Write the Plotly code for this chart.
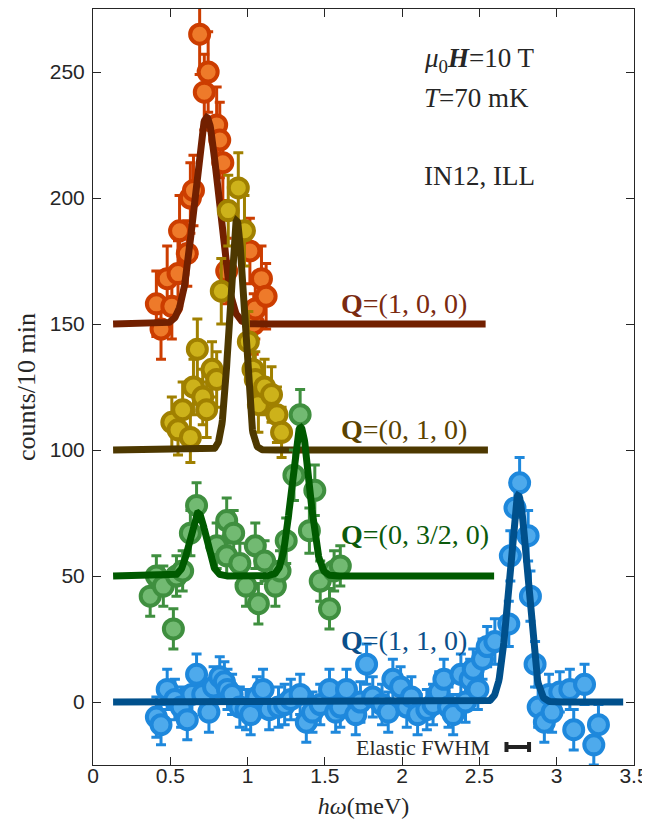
import plotly.graph_objects as go
import numpy as np

# ---------------- data ----------------
# Q = (1, 0, 0)
q100_x = [0.41, 0.44, 0.48, 0.51, 0.55, 0.56, 0.61, 0.63, 0.65, 0.69, 0.72, 0.745, 0.80, 0.82, 0.84, 0.865, 1.015, 1.04, 1.05, 1.09, 1.12]
q100_y = [158, 148, 168, 157, 170, 187, 178, 200, 203, 265, 242, 250, 229, 223, 214, 171, 179, 150, 156, 168, 161]
q100_e = [13, 12, 13, 13, 13, 14, 13, 14, 14, 16, 15, 16, 15, 15, 15, 13, 13, 12, 12, 13, 13]

# Q = (0, 1, 0)
q010_x = [0.51, 0.55, 0.58, 0.63, 0.65, 0.675, 0.71, 0.735, 0.77, 0.80, 0.83, 0.875, 0.94, 0.98, 1.005, 1.035, 1.05, 1.07, 1.11, 1.155, 1.19, 1.22]
q010_y = [111, 108, 116, 105, 125, 140, 121, 116, 132, 128, 163, 195, 204, 187, 143, 132, 128, 118, 125, 122, 114, 107]
q010_e = [10, 10, 11, 10, 11, 12, 11, 11, 11, 11, 13, 14, 14, 14, 12, 11, 11, 11, 11, 11, 11, 10]

# Q = (0, 3/2, 0)
q0320_x = [0.37, 0.41, 0.455, 0.52, 0.54, 0.58, 0.63, 0.67, 0.80, 0.865, 0.865, 0.91, 0.95, 0.99, 1.05, 1.07, 1.11, 1.18, 1.21, 1.25, 1.30, 1.34, 1.40, 1.435, 1.47, 1.53, 1.56, 1.60]
q0320_y = [42, 50, 46, 29, 50, 52, 67, 78, 62, 72, 58, 67, 55, 46, 62, 39, 56, 46, 52, 64, 90, 114, 68, 84, 48, 37, 52, 54]
q0320_e = [8, 8, 8, 8, 8, 8, 9, 9, 9, 9, 8, 9, 8, 8, 9, 8, 8, 8, 8, 9, 10, 10, 9, 10, 8, 8, 8, 8]

# Q = (1, 1, 0)
q110_x = [0.41, 0.44, 0.48, 0.53, 0.57, 0.61, 0.64, 0.67, 0.71, 0.75, 0.78, 0.82, 0.85, 0.87, 0.90, 0.95, 0.99, 1.02,
          1.06, 1.10, 1.14, 1.20, 1.24, 1.28, 1.34, 1.38, 1.42, 1.47, 1.53, 1.57, 1.60, 1.64, 1.70, 1.73, 1.77, 1.81,
          1.87, 1.91, 1.94, 1.99, 2.03, 2.06, 2.10, 2.16, 2.20, 2.24, 2.27, 2.30, 2.33, 2.38, 2.41, 2.44, 2.46, 2.49,
          2.52, 2.55, 2.60, 2.69, 2.70, 2.73, 2.76, 2.815, 2.83, 2.86, 2.88, 2.92, 2.95, 2.97, 3.02, 3.085, 3.11,
          3.18, 3.24, 3.27]
q110_y = [-6, -9, 5, 1, -2, -7, 3, 11, 3, -4, 6, 10, 8, 5, 3, -2, -3, -5,
          2, 5, -3, -2, -1, 1, 3, -8, -4, -1, 5, -4, -2, 5, -5, 0, 15, 2,
          -1, -4, 9, 6, -2, 2, -5, -3, -1, 4, 9, -2, -5, 11, 0, 9, 13, 5,
          17, 22, 24, 31, 58, 77, 87, 66, 42, 15, -2, -8, 3, -4, 4, 5, -11,
          7, -17, -9]
q110_e = [8] * 56 + [9, 9, 10, 10, 10, 10, 10, 9, 8, 8, 8, 8, 8, 8, 8, 8, 8, 8]

# fit parameters: baseline, [centres], [amplitudes], [sigmas], x-range
fit100 = dict(base=150, cen=[0.735], amp=[82], sig=[0.078], xr=[0.13, 2.54])
fit010 = dict(base=100, cen=[0.93], amp=[91], sig=[0.046], xr=[0.13, 2.555])
fit0320 = dict(base=50, cen=[0.68, 1.343], amp=[25, 59], sig=[0.052, 0.058], xr=[0.13, 2.595])
fit110 = dict(base=0, cen=[2.751], amp=[82], sig=[0.059], xr=[0.13, 3.43])

# elastic resolution bar
fwhm_x = [2.748]
fwhm_y = [-17.9]
fwhm_half = [0.073]

# ---------------- styles ----------------
series = [
    (q100_x, q100_y, q100_e, fit100, '#cc3d00', '#ee7a2a', '#722000'),
    (q010_x, q010_y, q010_e, fit010, '#a08000', '#cdb21a', '#4d3800'),
    (q0320_x, q0320_y, q0320_e, fit0320, '#3f8f3f', '#72ba72', '#005a00'),
    (q110_x, q110_y, q110_e, fit110, '#1e88dc', '#4eaaec', '#00508c'),
]

fig = go.Figure()
for xs, ys, es, fit, edge, fill, fitc in series:
    fig.add_trace(go.Scatter(
        x=xs, y=ys, mode='markers',
        marker=dict(symbol='circle', size=19, color=fill, line=dict(color=edge, width=4)),
        error_y=dict(type='data', array=es, visible=True, color=edge, thickness=3, width=5),
    ))
    xx = np.linspace(fit['xr'][0], fit['xr'][1], 800)
    yy = np.full_like(xx, float(fit['base']))
    for c, a, s in zip(fit['cen'], fit['amp'], fit['sig']):
        yy = yy + a * np.exp(-0.5 * ((xx - c) / s) ** 2)
    fig.add_trace(go.Scatter(x=xx, y=yy, mode='lines', line=dict(color=fitc, width=7)))

fig.add_trace(go.Scatter(
    x=fwhm_x, y=fwhm_y, mode='markers',
    marker=dict(size=1, color='#222222'),
    error_x=dict(type='data', array=fwhm_half, visible=True, color='#222222', thickness=4, width=5),
))

serif = 'Liberation Serif'
ann = []
qlabels = [
    ('<b>Q</b>=(1, 0, 0)', 158, '#7a2a10'),
    ('<b>Q</b>=(0, 1, 0)', 108, '#5a4200'),
    ('<b>Q</b>=(0, 3/2, 0)', 66.3, '#0b5a0b'),
    ('<b>Q</b>=(1, 1, 0)', 24.6, '#0a4f8a'),
]
for t, yv, c in qlabels:
    ann.append(dict(x=1.59, y=yv, xref='x', yref='y', text=t, showarrow=False, xanchor='left', yanchor='middle',
                    font=dict(family=serif, size=28, color=c)))
for t, yv in [('<i>μ</i><sub>0</sub><i><b>H</b></i>=10 T', 254.8), ('<i>T</i>=70 mK', 239.7), ('IN12, ILL', 208.7)]:
    ann.append(dict(x=2.128, y=yv, xref='x', yref='y', text=t, showarrow=False, xanchor='left', yanchor='middle',
                    font=dict(family=serif, size=27, color='#262626')))
ann.append(dict(x=2.58, y=-17.9, xref='x', yref='y', text='Elastic FWHM', showarrow=False, xanchor='right',
                yanchor='middle', font=dict(family=serif, size=22, color='#262626')))

tickfont = dict(family='Liberation Sans', size=21, color='#262626')
fig.update_layout(
    width=650, height=832,
    margin=dict(l=85, r=24, t=1, b=75),
    paper_bgcolor='white', plot_bgcolor='white',
    showlegend=False,
    annotations=ann,
    xaxis=dict(range=[0, 3.5], tickvals=[0, 0.5, 1, 1.5, 2, 2.5, 3, 3.5],
               ticktext=['0', '0.5', '1', '1.5', '2', '2.5', '3', '3.5'],
               ticks='inside', ticklen=8, tickcolor='#262626', showline=True, mirror='ticks',
               linecolor='#262626', linewidth=1, showgrid=False, zeroline=False, tickfont=tickfont,
               ticklabelstandoff=-8,
               title=dict(text='<i>hω</i>(meV)', standoff=10,
                          font=dict(family=serif, size=24, color='#262626'))),
    yaxis=dict(range=[-25, 275], tickvals=[0, 50, 100, 150, 200, 250],
               ticks='inside', ticklen=8, tickcolor='#262626', showline=True, mirror='ticks',
               linecolor='#262626', linewidth=1, showgrid=False, zeroline=False, tickfont=tickfont,
               ticklabelstandoff=3,
               title=dict(text='counts/10 min', standoff=6,
                          font=dict(family=serif, size=26, color='#262626'))),
)

fig.write_html('out.html')
